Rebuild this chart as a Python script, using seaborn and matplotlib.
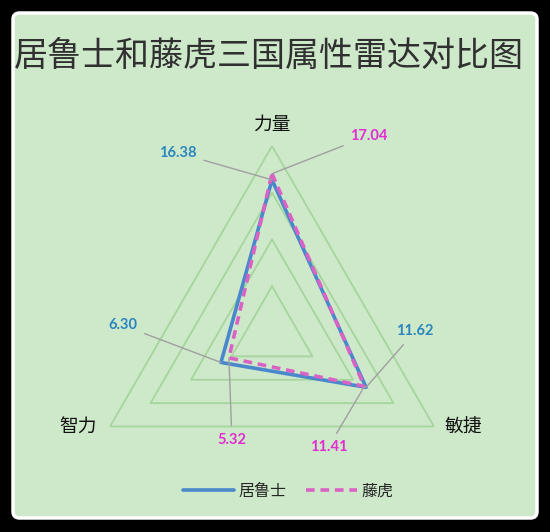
import numpy as np
import pandas as pd
import seaborn as sns
from matplotlib import pyplot as plt
from matplotlib.patches import FancyBboxPatch

# 数据
attributes = ['力量', '敏捷', '智力']
heroes = ['居鲁士', '藤虎']
cyrus_values = [16.38, 11.62, 6.30]
fujitora_values = [17.04, 11.41, 5.32]
ring_levels = [5, 10, 15, 20]

hero_colors = {'居鲁士': '#4A88CC', '藤虎': '#DA62C4'}
label_colors = {'居鲁士': '#2A86BE', '藤虎': '#E22CD2'}

sns.set_style('white')
plt.rcParams['font.family'] = ['Noto Sans CJK SC', 'DejaVu Sans']

angles = np.linspace(0, 2 * np.pi, len(attributes), endpoint=False)
angles_closed = np.append(angles, 2 * np.pi)

rows = []
for hero, vals in zip(heroes, [cyrus_values, fujitora_values]):
    closed = list(vals) + [vals[0]]
    for th, v in zip(angles_closed, closed):
        rows.append({'theta': th, 'value': v, 'hero': hero})
df = pd.DataFrame(rows)

fig = plt.figure(figsize=(5.5, 5.32), dpi=100)
fig.patch.set_facecolor('black')

# 背景面板
panel = FancyBboxPatch((13 / 550, 1 - 518 / 532), 524 / 550, 505 / 532,
                       boxstyle='round,pad=0,rounding_size=0.012',
                       transform=fig.transFigure, facecolor='#CEE8CA',
                       edgecolor='white', linewidth=2.5, zorder=-5)
fig.patches.append(panel)

ax = fig.add_axes([85 / 550, 12 / 532, 374 / 550, 374 / 532], projection='polar')
ax.set_zorder(2)
ax.set_facecolor('none')
ax.set_theta_offset(np.pi / 2)
ax.set_theta_direction(-1)
ax.set_ylim(0, 20)
ax.grid(False)
ax.spines['polar'].set_visible(False)
ax.set_xticks([])
ax.set_yticks([])

# 三角形网格
for r in ring_levels:
    ax.plot(angles_closed, [r] * len(angles_closed), color='#A6D59E', lw=1.3, zorder=1)

sns.lineplot(data=df, x='theta', y='value', hue='hero', style='hero',
             palette=hero_colors, dashes={'居鲁士': '', '藤虎': (2.4, 1.6)},
             sort=False, estimator=None, errorbar=None, linewidth=2.6, ax=ax)
handles, labels = ax.get_legend_handles_labels()
ax.get_legend().remove()
ax.set_xlabel('')
ax.set_ylabel('')
ax.set_ylim(0, 20)

# 属性名
cat_offsets = [(0, 22), (29, 0), (-32, 0)]
for th, name, off in zip(angles, attributes, cat_offsets):
    ax.annotate(name, (th, 20), xytext=off, textcoords='offset pixels',
                ha='center', va='center', fontsize=13.5, color='#111111',
                annotation_clip=False)

# 数据标签
label_offsets = {
    '居鲁士': [(-94, 27), (49, 56), (-98, 37)],
    '藤虎': [(97, 38), (-36, -61), (3, -82)],
}
for hero, vals in zip(heroes, [cyrus_values, fujitora_values]):
    for th, v, off in zip(angles, vals, label_offsets[hero]):
        ax.annotate(f'{v:.2f}', (th, v), xytext=off, textcoords='offset pixels',
                    ha='center', va='center', fontsize=10.5, fontweight='bold',
                    family=['Lato', 'DejaVu Sans'], color=label_colors[hero],
                    annotation_clip=False,
                    arrowprops=dict(arrowstyle='-', color='#A0A0A0', lw=1,
                                    shrinkA=3, shrinkB=0))

fig.text(0.489, 1 - 56 / 532, '居鲁士和藤虎三国属性雷达对比图', ha='center', va='center',
         fontsize=24.5, fontweight='light', color='#303030')

fig.legend(handles, labels, loc='center', bbox_to_anchor=(0.524, 1 - 491 / 532),
           ncol=2, frameon=False, fontsize=11.5, handlelength=3.2,
           columnspacing=1.2, handletextpad=0.3)

fig.savefig('out.png', dpi=100, facecolor=fig.get_facecolor())
